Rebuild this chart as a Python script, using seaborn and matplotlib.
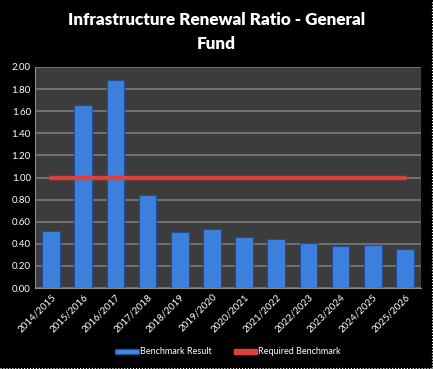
import matplotlib
matplotlib.use('Agg')
import matplotlib.pyplot as plt
import seaborn as sns
import pandas as pd
from matplotlib.patches import Patch
from matplotlib.lines import Line2D

# Data
years = ['2014/2015', '2015/2016', '2016/2017', '2017/2018', '2018/2019', '2019/2020',
         '2020/2021', '2021/2022', '2022/2023', '2023/2024', '2024/2025', '2025/2026']
benchmark_result = [0.52, 1.66, 1.88, 0.84, 0.51, 0.53, 0.46, 0.44, 0.41, 0.38, 0.385, 0.35]
required_benchmark = [1.00] * len(years)
y_ticks = [0.0, 0.2, 0.4, 0.6, 0.8, 1.0, 1.2, 1.4, 1.6, 1.8, 2.0]

df = pd.DataFrame({'year': years, 'result': benchmark_result, 'required': required_benchmark})

sns.set_style('dark')
plt.rcParams['font.family'] = ['Lato', 'DejaVu Sans']

fig = plt.figure(figsize=(4.33, 3.69), dpi=100, facecolor='black')
ax = fig.add_axes([35 / 433, 1 - 288 / 369, 386 / 433, 221 / 369])
ax.set_facecolor('#3c3c3c')

sns.barplot(data=df, x='year', y='result', color='#3d7fdc', width=0.55,
            edgecolor='#1f4f9a', linewidth=0.8, saturation=1, ax=ax, zorder=3)
sns.lineplot(data=df, x='year', y='required', color='#d9413a', linewidth=3.2,
             ax=ax, zorder=4, legend=False)

ax.set_ylim(0, 2.0)
ax.set_xlim(-0.5, len(years) - 0.5)
ax.set_yticks(y_ticks)
ax.set_yticklabels([f'{v:.2f}' for v in y_ticks], color='white', fontsize=7)
ax.set_xticks(range(len(years)))
ax.set_xticklabels(years, rotation=45, ha='right', rotation_mode='anchor',
                   color='white', fontsize=7)
ax.tick_params(axis='both', length=0, pad=3)
ax.grid(axis='y', color='#7a7a7a', linewidth=1.2, zorder=0)
ax.grid(axis='x', visible=False)
ax.set_axisbelow(True)
ax.set_xlabel('')
ax.set_ylabel('')
for side in ['top', 'right']:
    ax.spines[side].set_visible(False)
ax.spines['left'].set_color('#8a8a8a')
ax.spines['bottom'].set_color('#8a8a8a')

fig.text(0.5, 1 - 20 / 369, 'Infrastructure Renewal Ratio - General', ha='center',
         va='center', color='white', fontsize=12.3, fontweight='heavy')
fig.text(0.5, 1 - 44 / 369, 'Fund', ha='center', va='center', color='white',
         fontsize=12.3, fontweight='heavy')

handles = [Patch(facecolor='#4a8ae6', edgecolor='#1f4f9a', label='Benchmark Result'),
           Patch(facecolor='#d9413a', edgecolor='#d9413a', label='Required Benchmark')]
leg = ax.legend(handles=handles, loc='center', bbox_to_anchor=(0.5, -64 / 221),
                ncol=2, frameon=False, fontsize=6.5, handlelength=2.6, handleheight=0.5,
                handletextpad=0.1, columnspacing=2.5)
for t in leg.get_texts():
    t.set_color('white')

# dotted frame on right and bottom edges
fig.lines.append(Line2D([0.997, 0.997], [0.003, 1.0], transform=fig.transFigure,
                        color='white', linestyle=':', linewidth=0.8))
fig.lines.append(Line2D([0.0, 0.997], [0.003, 0.003], transform=fig.transFigure,
                        color='white', linestyle=':', linewidth=0.8))

fig.savefig('out.png', dpi=100, facecolor='black')
